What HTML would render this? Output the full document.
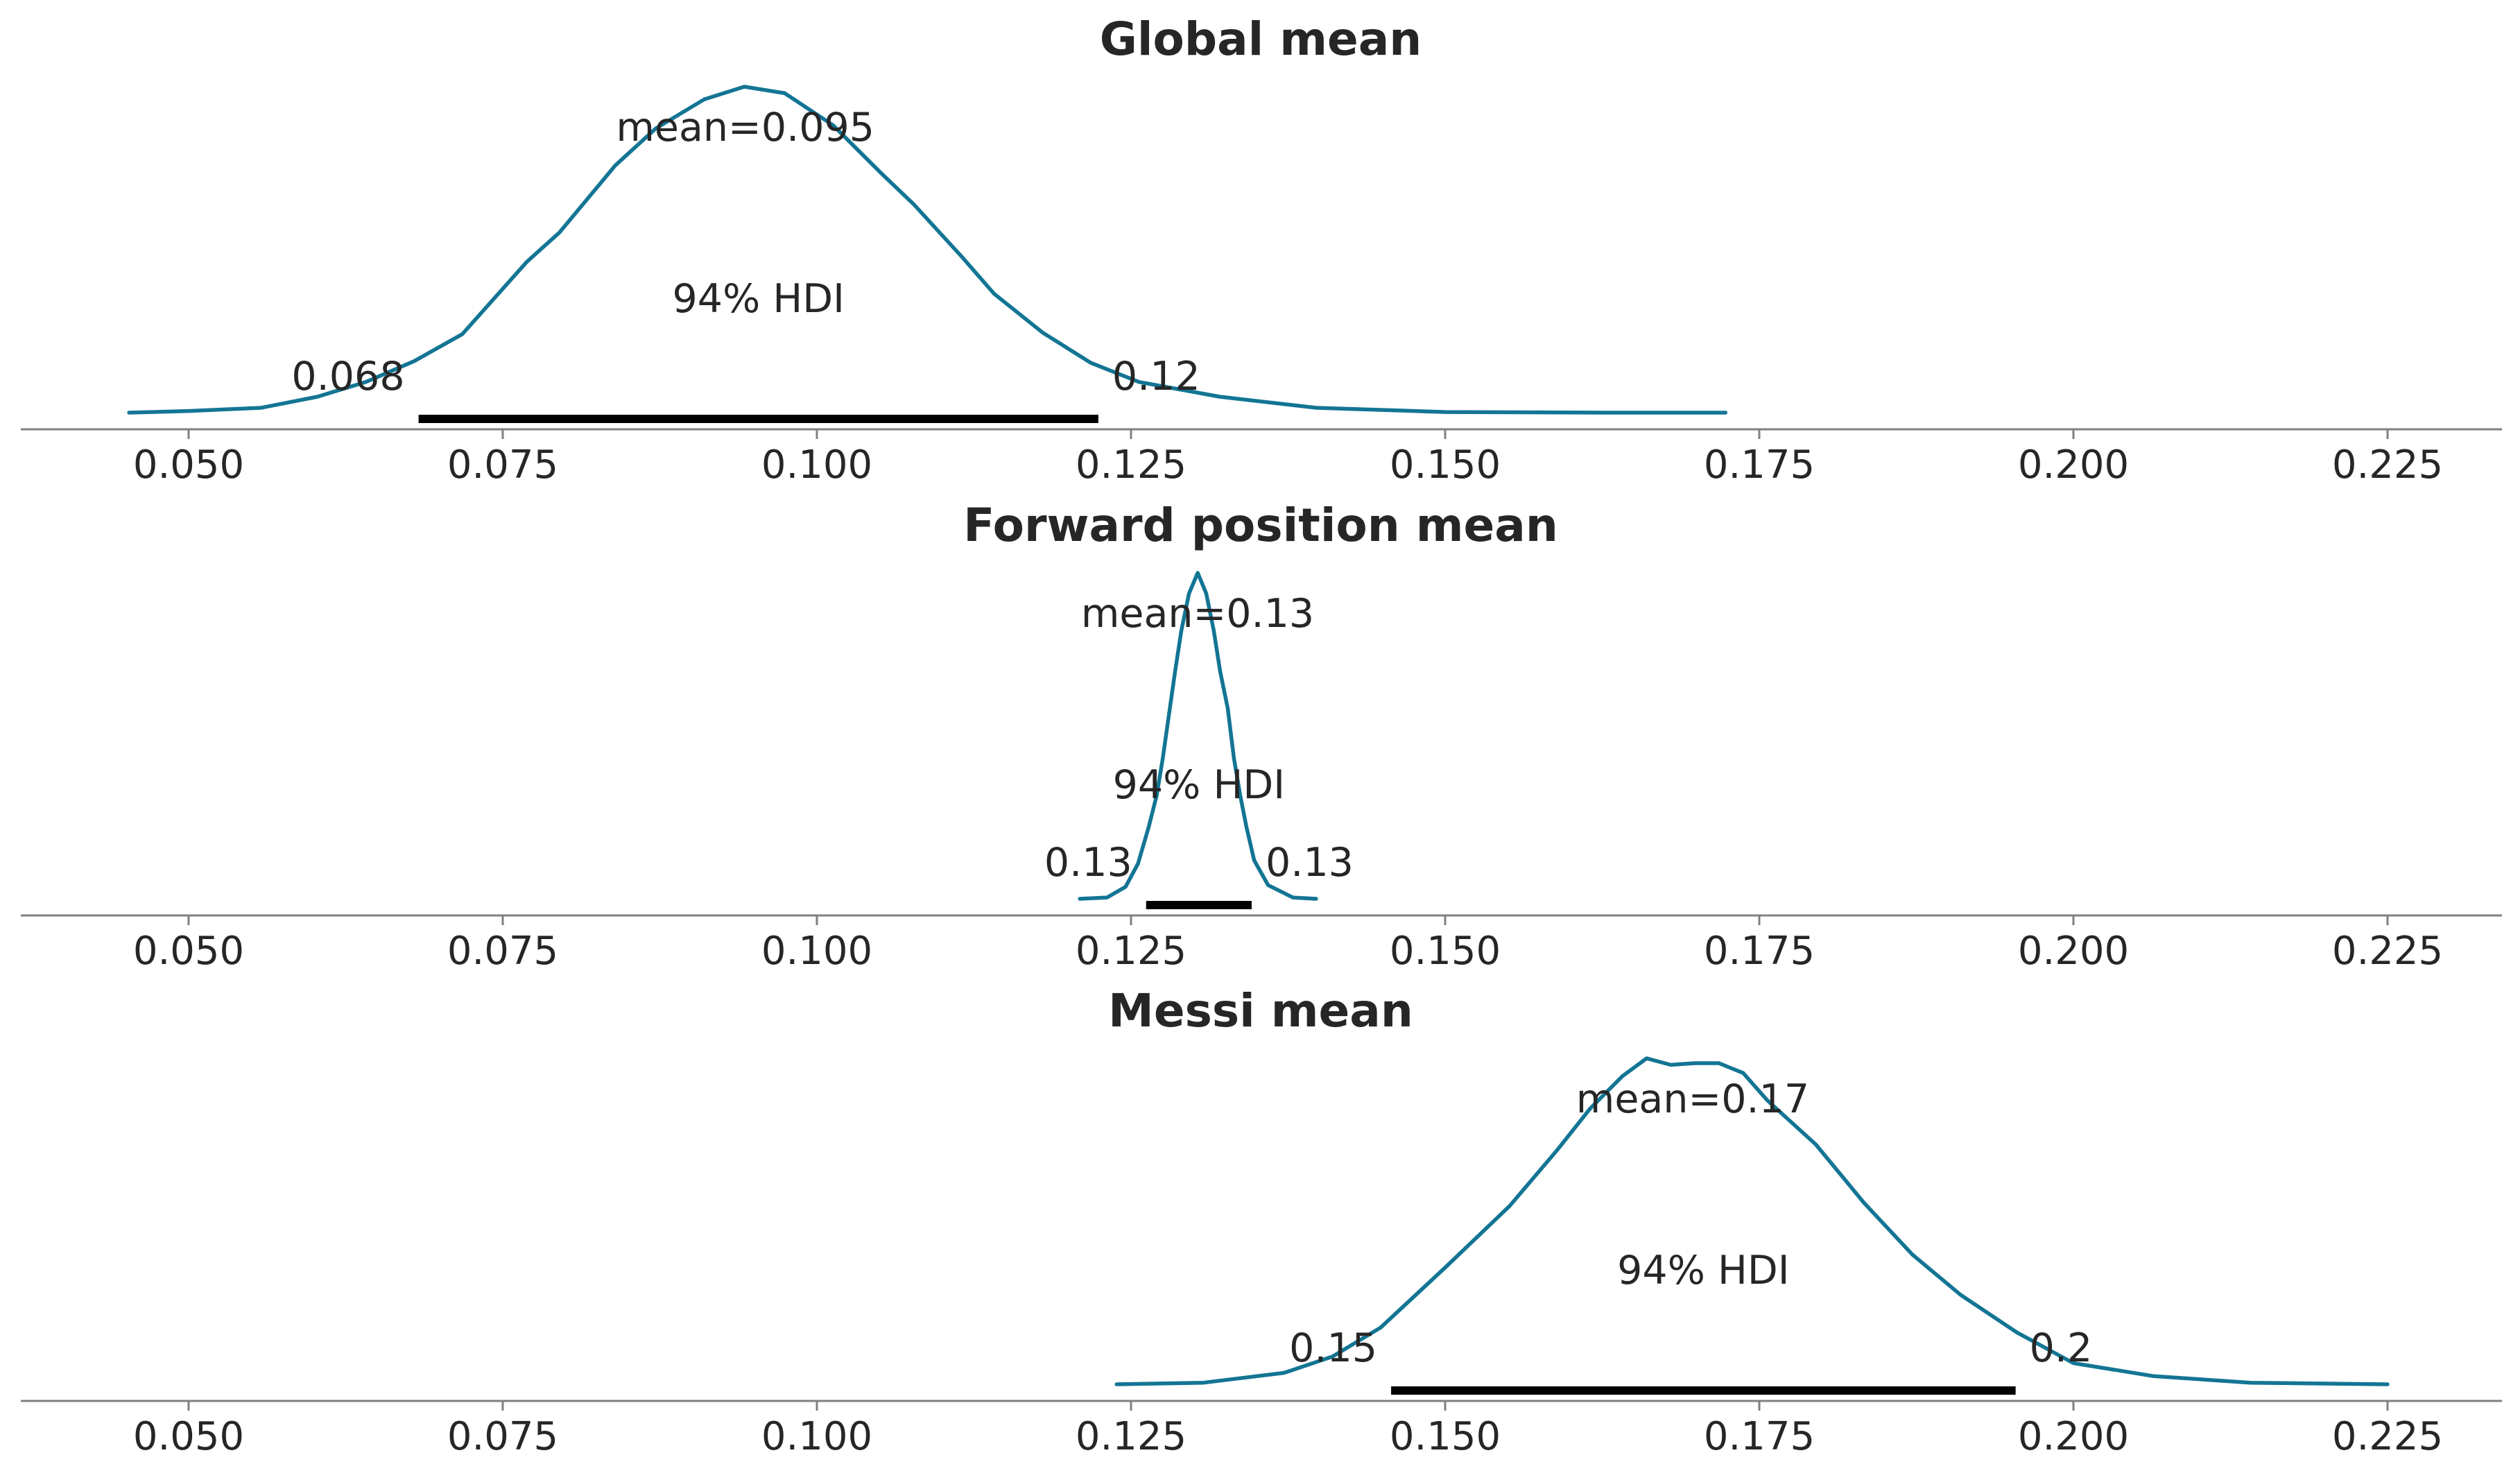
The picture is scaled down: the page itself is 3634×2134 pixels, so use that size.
<!DOCTYPE html>
<html><head><meta charset="utf-8"><style>
html,body{margin:0;padding:0;background:#fff;}
svg{display:block;}
text{font-family:"DejaVu Sans","Liberation Sans",sans-serif;fill:#262626;}
</style></head><body>
<svg id="chart" width="3634" height="2134" viewBox="0 0 3634 2134" xmlns="http://www.w3.org/2000/svg"></svg>
<script>
const tickValues = [0.050, 0.075, 0.100, 0.125, 0.150, 0.175, 0.200, 0.225];
const tickLabels = ["0.050","0.075","0.100","0.125","0.150","0.175","0.200","0.225"];
const panelTitles = ["Global mean", "Forward position mean", "Messi mean"];
const meanValues = [0.0943, 0.1303, 0.1697];
const meanLabels = ["mean=0.095", "mean=0.13", "mean=0.17"];
const hdiLow = [0.0683, 0.1262, 0.1457];
const hdiHigh = [0.1224, 0.1346, 0.1954];
const hdiLowLabels = ["0.068", "0.13", "0.15"];
const hdiHighLabels = ["0.12", "0.13", "0.2"];
const globalX = [0.04526,0.05,0.05577,0.06026,0.0641,0.06795,0.07179,0.07692,0.07949,0.08397,0.08718,0.09103,0.09423,0.09744,0.10128,0.10513,0.10769,0.11154,0.1141,0.11795,0.12179,0.12564,0.13205,0.13974,0.15,0.16282,0.17231];
const globalD = [0,0.005,0.015,0.049,0.094,0.158,0.241,0.463,0.552,0.759,0.872,0.961,1,0.98,0.882,0.734,0.64,0.478,0.365,0.246,0.153,0.094,0.049,0.015,0.002,0,0];
const forwardX = [0.12092,0.12309,0.12457,0.12556,0.12642,0.12704,0.12753,0.12802,0.12851,0.129,0.12962,0.13031,0.13098,0.13159,0.13209,0.1327,0.13319,0.13369,0.13418,0.1348,0.13591,0.13788,0.13973];
const forwardD = [0,0.004,0.037,0.108,0.222,0.317,0.431,0.565,0.698,0.822,0.937,1,0.937,0.822,0.698,0.584,0.431,0.317,0.222,0.118,0.042,0.004,0];
const messiX = [0.12385,0.13077,0.13718,0.14103,0.14487,0.15,0.15513,0.15897,0.16154,0.1641,0.16603,0.16795,0.16987,0.17179,0.17372,0.17564,0.17949,0.18333,0.18718,0.19103,0.19551,0.2,0.20641,0.2141,0.225];
const messiD = [0,0.005,0.035,0.085,0.174,0.358,0.547,0.721,0.846,0.945,1,0.98,0.985,0.985,0.955,0.871,0.736,0.557,0.398,0.274,0.159,0.065,0.025,0.005,0];

const seriesX = [globalX, forwardX, messiX];
const seriesD = [globalD, forwardD, messiD];
const NS = "http://www.w3.org/2000/svg";
const svg = document.getElementById("chart");
const axisY = [619, 1320, 2020];
const xScale = v => 272 + (v - 0.05) / 0.025 * 453;
function mk(tag, attrs, parent){ const e=document.createElementNS(NS,tag); for(const k in attrs) e.setAttribute(k, attrs[k]); (parent||svg).appendChild(e); return e; }

for (let p = 0; p < 3; p++) {
  const ay = axisY[p];
  const base = ay - 24, h = 470;
  const yScale = d => base - d * h;
  const g = mk("g", {});
  
  
  const t = mk("text", {x:1818, y:ay-540, "text-anchor":"middle", "font-size":66, "font-weight":"bold"}, g);
  t.textContent = panelTitles[p];
  
  
  const axis = mk("line", {x1:30, x2:3608, y1:ay, y2:ay, stroke:"#808080", "stroke-width":3}, g);
  
  
  for (let i = 0; i < tickValues.length; i++) {
    const x = xScale(tickValues[i]);
    const tk = mk("line", {x1:x, x2:x, y1:ay, y2:ay+14, stroke:"#808080", "stroke-width":3}, g);
    
    
    const tl = mk("text", {x:x, y:ay+70, "text-anchor":"middle", "font-size":56}, g);
    tl.textContent = tickLabels[i];
    
    
  }
  const xs = seriesX[p], ds = seriesD[p];
  let dstr = "";
  for (let i = 0; i < xs.length; i++) dstr += (i ? "L" : "M") + xScale(xs[i]).toFixed(1) + "," + yScale(ds[i]).toFixed(1);
  const path = mk("path", {d:dstr, fill:"none", stroke:"#137594", "stroke-width":5.5, "stroke-linejoin":"round", "stroke-linecap":"round"}, g);
  
  
  const x1 = xScale(hdiLow[p]), x2 = xScale(hdiHigh[p]);
  const bar = mk("line", {x1:x1, x2:x2, y1:base+9, y2:base+9, stroke:"#000", "stroke-width":12}, g);
  
  
  const lo = mk("text", {x:x1-20, y:ay-57, "text-anchor":"end", "font-size":57}, g);
  lo.textContent = hdiLowLabels[p];
  
  
  const hi = mk("text", {x:x2+20, y:ay-57, "text-anchor":"start", "font-size":57}, g);
  hi.textContent = hdiHighLabels[p];
  
  
  const hl = mk("text", {x:(x1+x2)/2, y:ay-169, "text-anchor":"middle", "font-size":57}, g);
  hl.textContent = "94% HDI";
  
  
  const ml = mk("text", {x:xScale(meanValues[p]), y:ay-416, "text-anchor":"middle", "font-size":57}, g);
  ml.textContent = meanLabels[p];
  
  
}
</script>
</body></html>
